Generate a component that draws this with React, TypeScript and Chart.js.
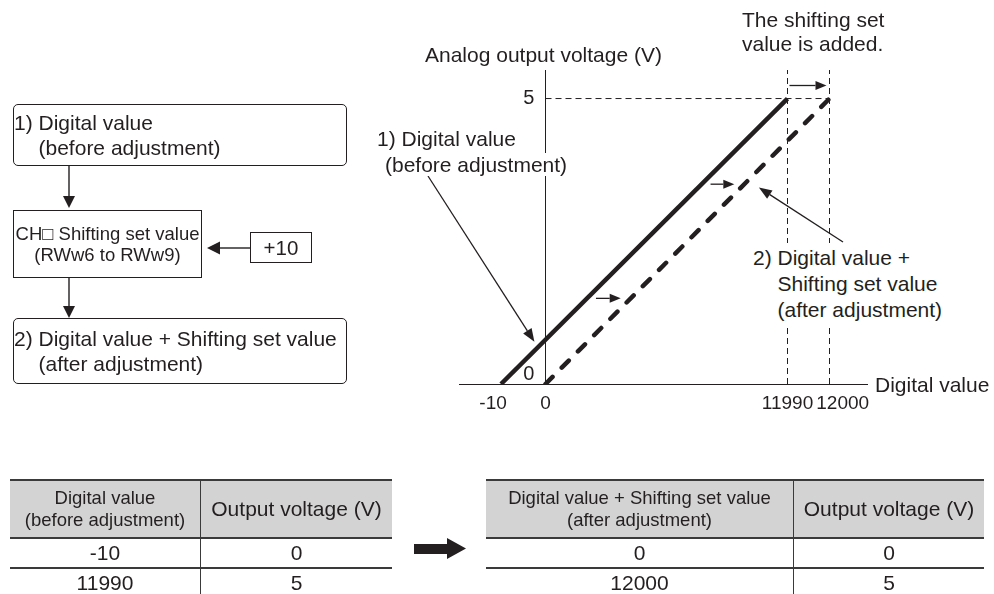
import React, { useEffect, useRef } from 'react';
import { Chart, registerables, LinearScale } from 'chart.js';

Chart.register(...registerables);

// ---------------- data ----------------
const xTickValues = [-10, 0, 11990, 12000];
const yTickValues = [0, 5];
const digitalBefore = [-10, 11990]; // 1) Digital value (before adjustment)
const digitalAfter = [0, 12000]; // 2) Digital value + Shifting set value (after adjustment)
const outputVoltage = [0, 5];
const shiftingSetValue = '+10';
const yAxisTop = 5.5;
const shiftArrowVoltages = [1.5, 3.5];

const yAxisTitle = 'Analog output voltage (V)';
const xAxisTitle = 'Digital value';
const beforeHeader = ['Digital value', '(before adjustment)'];
const afterHeader = ['Digital value + Shifting set value', '(after adjustment)'];
const voltageHeader = 'Output voltage (V)';

// ---------------- style / layout ----------------
const INK = '#231f20';
const FONT = '"Liberation Sans", Arial, Helvetica, sans-serif';
// pixel offset of each x tick from the first one (the axis is schematic, not to scale)
const X_TICK_OFFSETS = [0, 44.5, 286.5, 328.5];
const AXIS_LEFT_OVERHANG = 42;
const AXIS_RIGHT_OVERHANG = 37.5;

function warp(v: number): number {
  const k = xTickValues;
  const p = X_TICK_OFFSETS;
  const n = k.length;
  let i = 1;
  while (i < n - 1 && v > k[i]) i++;
  const t = (v - k[i - 1]) / (k[i] - k[i - 1]);
  return p[i - 1] + t * (p[i] - p[i - 1]);
}

class SchematicScale extends LinearScale {
  static id = 'schematic';
  static defaults = LinearScale.defaults;
  getPixelForValue(value: number) {
    return super.getPixelForValue(warp(value));
  }
}
Chart.register(SchematicScale as any);

function drawArrow(ctx: CanvasRenderingContext2D, x1: number, y1: number, x2: number, y2: number, len = 11, half = 4.5) {
  const a = Math.atan2(y2 - y1, x2 - x1);
  const bx = x2 - len * Math.cos(a);
  const by = y2 - len * Math.sin(a);
  ctx.beginPath();
  ctx.moveTo(x1, y1);
  ctx.lineTo(bx, by);
  ctx.stroke();
  ctx.beginPath();
  ctx.moveTo(x2, y2);
  ctx.lineTo(bx + half * Math.sin(a), by - half * Math.cos(a));
  ctx.lineTo(bx - half * Math.sin(a), by + half * Math.cos(a));
  ctx.closePath();
  ctx.fill();
}

const annotationPlugin = {
  id: 'annotations',
  afterDatasetsDraw(chart: any) {
    const ctx = chart.ctx as CanvasRenderingContext2D;
    const xs = chart.scales.x;
    const ys = chart.scales.y;
    const along = (xv: number[], v: number) => {
      const x0 = xs.getPixelForValue(xv[0]);
      const y0 = ys.getPixelForValue(outputVoltage[0]);
      const x1 = xs.getPixelForValue(xv[1]);
      const y1 = ys.getPixelForValue(outputVoltage[1]);
      const t = (v - outputVoltage[0]) / (outputVoltage[1] - outputVoltage[0]);
      return { x: x0 + t * (x1 - x0), y: y0 + t * (y1 - y0) };
    };
    ctx.save();
    ctx.strokeStyle = INK;
    ctx.fillStyle = INK;
    ctx.lineWidth = 1.3;
    ctx.setLineDash([]);
    // shift arrows between the two lines
    shiftArrowVoltages.forEach((v) => {
      const a = along(digitalBefore, v);
      const b = along(digitalAfter, v);
      drawArrow(ctx, a.x + 9, a.y, b.x - 10, b.y);
    });
    // arrow at the top between 11990 and 12000
    const yTop = Math.round(ys.getPixelForValue(5.23)) + 0.5;
    drawArrow(ctx, xs.getPixelForValue(digitalBefore[1]) + 2, yTop, xs.getPixelForValue(digitalAfter[1]) - 3, yTop);
    // leader lines
    const t1 = along(digitalBefore, 0.74);
    drawArrow(ctx, 428, 176, t1.x - 9, t1.y, 13, 5);
    const t2 = along(digitalAfter, 3.44);
    drawArrow(ctx, 843, 242, t2.x + 18, t2.y, 13, 5);
    ctx.restore();
  },
};

function ChartCanvas() {
  const ref = useRef<HTMLCanvasElement | null>(null);
  useEffect(() => {
    if (!ref.current) return;
    const pts = (xv: number[], yv: number[]) => xv.map((x, i) => ({ x, y: yv[i] }));
    const guide = {
      borderColor: INK,
      borderWidth: 1,
      borderDash: [6, 4],
      pointRadius: 0,
      showLine: true,
    };
    const chart = new Chart(ref.current, {
      type: 'scatter',
      data: {
        datasets: [
          {
            label: '1) Digital value (before adjustment)',
            data: pts(digitalBefore, outputVoltage),
            borderColor: INK,
            borderWidth: 4.5,
            pointRadius: 0,
            showLine: true,
          },
          {
            label: '2) Digital value + Shifting set value (after adjustment)',
            data: pts(digitalAfter, outputVoltage),
            borderColor: INK,
            borderWidth: 4.5,
            borderDash: [10, 13],
            borderCapStyle: 'round',
            pointRadius: 0,
            showLine: true,
          },
          { label: 'g1', data: [{ x: xTickValues[1], y: yTickValues[1] }, { x: digitalAfter[1], y: yTickValues[1] }], ...guide },
          { label: 'g2', data: [{ x: digitalBefore[1], y: 0 }, { x: digitalBefore[1], y: yAxisTop }], ...guide },
          { label: 'g3', data: [{ x: digitalAfter[1], y: 0 }, { x: digitalAfter[1], y: yAxisTop }], ...guide },
        ],
      },
      options: {
        animation: false,
        responsive: false,
        events: [],
        layout: { padding: { left: 459, right: 994 - 867, top: 70, bottom: 594 - 384 - 40 } },
        plugins: { legend: { display: false }, tooltip: { enabled: false } },
        scales: {
          x: {
            type: 'schematic',
            position: 'bottom',
            min: warp(xTickValues[0]) - AXIS_LEFT_OVERHANG,
            max: warp(xTickValues[xTickValues.length - 1]) + AXIS_RIGHT_OVERHANG,
            bounds: 'data',
            grid: { display: false },
            border: { display: true, color: INK, width: 1 },
            afterBuildTicks: (s: any) => {
              s.ticks = xTickValues.map((v) => ({ value: v }));
            },
            afterFit: (s: any) => {
              s.height = 40;
            },
            ticks: {
              autoSkip: false,
              maxRotation: 0,
              minRotation: 0,
              padding: 0,
              color: INK,
              font: { family: FONT, size: 19 },
              callback: (v: any) => {
                if (v === -10) return '-10   ';
                if (v === 12000) return '     12000';
                return String(v);
              },
            },
          } as any,
          y: {
            type: 'linear',
            position: { x: 0 },
            min: 0,
            max: yAxisTop,
            grid: { display: false },
            border: { display: true, color: INK, width: 1 },
            afterBuildTicks: (s: any) => {
              s.ticks = yTickValues.map((v) => ({ value: v }));
            },
            ticks: {
              padding: 9,
              color: INK,
              font: { family: FONT, size: 20, lineHeight: 1 },
              callback: (v: any) => (v === 0 ? ['0  ', ''] : String(v) + '  '),
            },
          } as any,
        },
      },
      plugins: [annotationPlugin],
    } as any);
    return () => chart.destroy();
  }, []);
  return (
    <canvas
      ref={ref}
      width={994}
      height={594}
      style={{ position: 'absolute', left: 0, top: 0, width: 994, height: 594 }}
    />
  );
}

const abs = (left: number, top: number, extra: any = {}) => ({ position: 'absolute' as const, left, top, whiteSpace: 'nowrap' as const, ...extra });

function Table({ left, widths, header, rows }: { left: number; widths: number[]; header: string[]; rows: (string | number)[][] }) {
  const total = widths[0] + widths[1];
  const line = '2px solid #3a3a3a';
  const divider = '1.5px solid #3a3a3a';
  const cell = (w: number, i: number, extra: any = {}) => ({
    width: w,
    boxSizing: 'border-box' as const,
    display: 'flex',
    flexDirection: 'column' as const,
    alignItems: 'center',
    justifyContent: 'center',
    borderRight: i === 0 ? divider : 'none',
    height: '100%',
    ...extra,
  });
  return (
    <div style={abs(left, 479, { width: total })}>
      <div style={{ height: 60, boxSizing: 'border-box', borderTop: line, borderBottom: line, background: '#d3d3d3', display: 'flex' }}>
        <div style={cell(widths[0], 0, { fontSize: 18.5, lineHeight: '22px' })}>
          <div>{header[0]}</div>
          <div>{header[1]}</div>
        </div>
        <div style={cell(widths[1], 1, { fontSize: 21 })}>{voltageHeader}</div>
      </div>
      {rows.map((r, ri) => (
        <div key={ri} style={{ height: 30, boxSizing: 'border-box', borderBottom: line, display: 'flex', fontSize: 21 }}>
          <div style={cell(widths[0], 0)}>{r[0]}</div>
          <div style={cell(widths[1], 1)}>{r[1]}</div>
        </div>
      ))}
    </div>
  );
}

export default function App() {
  const box = { boxSizing: 'border-box' as const, border: `1.5px solid ${INK}`, position: 'absolute' as const };
  return (
    <div
      style={{
        position: 'absolute',
        left: 0,
        top: 0,
        width: 994,
        height: 594,
        overflow: 'hidden',
        background: '#fff',
        fontFamily: FONT,
        color: INK,
      }}
    >
      <ChartCanvas />

      {/* chart texts */}
      <div style={abs(425, 43, { fontSize: 21, lineHeight: '24px' })}>{yAxisTitle}</div>
      <div style={abs(742, 8, { fontSize: 21, lineHeight: '24px' })}>
        The shifting set
        <br />
        value is added.
      </div>
      <div style={abs(377, 126, { fontSize: 21, lineHeight: '26px' })}>
        <div>1) Digital value</div>
        <div style={{ paddingLeft: 8 }}>
          <span style={{ background: '#fff' }}>(before adjustment)</span>
        </div>
      </div>
      <div style={abs(753, 243, { fontSize: 21, lineHeight: '26px', background: '#fff', padding: '2px 4px 5px 0', display: 'flex' })}>
        <span>2)&nbsp;</span>
        <span>
          Digital value +
          <br />
          Shifting set value
          <br />
          (after adjustment)
        </span>
      </div>
      <div style={abs(875, 373, { fontSize: 21, lineHeight: '24px' })}>{xAxisTitle}</div>

      {/* flow chart */}
      <div style={{ ...box, left: 13, top: 104, width: 334, height: 62, borderRadius: 5 }} />
      <div style={abs(14, 110, { fontSize: 21, lineHeight: '25px', display: 'flex' })}>
        <span>1)&nbsp;</span>
        <span>
          Digital value
          <br />
          (before adjustment)
        </span>
      </div>
      <div style={{ ...box, left: 13, top: 210, width: 189, height: 68, display: 'flex', flexDirection: 'column', alignItems: 'center', justifyContent: 'center', fontSize: 18.5, lineHeight: '21px', whiteSpace: 'nowrap' }}>
        <div>CH{'\u25A1'} Shifting set value</div>
        <div>(RWw6 to RWw9)</div>
      </div>
      <div style={{ ...box, left: 250, top: 232, width: 62, height: 31, display: 'flex', alignItems: 'center', justifyContent: 'center', fontSize: 20.5 }}>
        {shiftingSetValue}
      </div>
      <div style={{ ...box, left: 13, top: 318, width: 334, height: 66, borderRadius: 5 }} />
      <div style={abs(14, 326, { fontSize: 21, lineHeight: '25px', display: 'flex' })}>
        <span>2)&nbsp;</span>
        <span>
          Digital value + Shifting set value
          <br />
          (after adjustment)
        </span>
      </div>

      <svg width={994} height={594} style={{ position: 'absolute', left: 0, top: 0, pointerEvents: 'none' }}>
        <g stroke={INK} strokeWidth={1.4} fill={INK}>
          <line x1={69} y1={166} x2={69} y2={197} />
          <polygon points="63,196 75,196 69,208" stroke="none" />
          <line x1={250} y1={248} x2={219} y2={248} />
          <polygon points="220,241.5 220,254.5 207,248" stroke="none" />
          <line x1={69} y1={278} x2={69} y2={307} />
          <polygon points="63,306 75,306 69,318" stroke="none" />
          <polygon points="414,544 447,544 447,538 466,548.5 447,559 447,554 414,554" stroke="none" />
        </g>
      </svg>

      {/* tables */}
      <Table
        left={10}
        widths={[191, 191]}
        header={beforeHeader}
        rows={digitalBefore.map((d, i) => [d, outputVoltage[i]])}
      />
      <Table
        left={486}
        widths={[308, 190]}
        header={afterHeader}
        rows={digitalAfter.map((d, i) => [d, outputVoltage[i]])}
      />
    </div>
  );
}
